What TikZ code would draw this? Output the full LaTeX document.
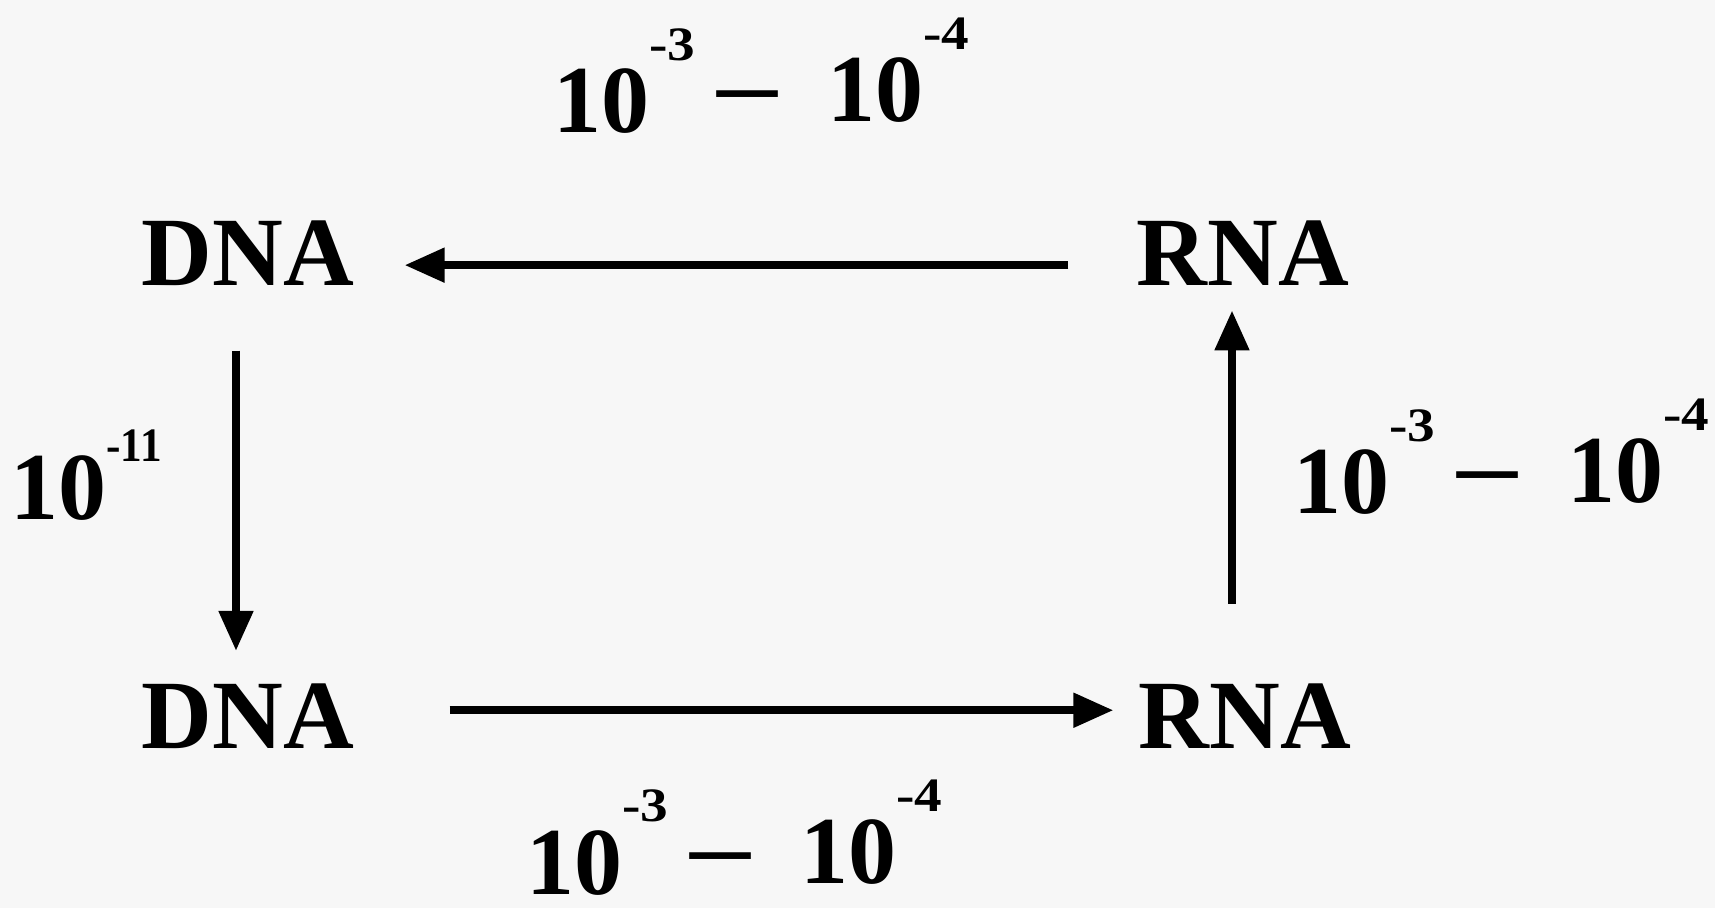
\documentclass[tikz,border=0pt]{standalone}
\usepackage{fontspec,graphicx}
\setmainfont{Liberation Serif}
\usetikzlibrary{arrows.meta}
\newcommand\tenexp[2][36pt]{10\raisebox{#1}{\fontsize{24}{24}\selectfont#2}}
\newcommand\rng[2]{\tenexp{\scalebox{1.15}[1]{#1}}\hspace{11pt}\raisebox{8pt}{\scalebox{1.25}[1]{\textendash}}\hspace{25pt}\raisebox{5.5pt}{\tenexp{\scalebox{1.15}[1]{#2}}}}

\begin{document}
\begin{tikzpicture}[x=.5pt,y=-.5pt,
  mol/.style={anchor=base,inner sep=0pt,font=\fontsize{49}{55}\selectfont\bfseries},
  rate/.style={anchor=base west,inner sep=0pt,font=\fontsize{48}{54}\selectfont\bfseries},
  flow/.style={line width=4pt,-{Triangle[length=20pt,width=16.5pt]}}]
\fill[black!3] (0,0) rectangle (1715,908);
\path[use as bounding box] (0,0) rectangle (1715,908);
% molecules
\node[mol] (dnaT) at (248,286) {DNA};
\node[mol] (rnaT) at (1243,286) {RNA};
\node[mol] (dnaB) at (248,749) {DNA};
\node[mol] (rnaB) at (1245,749) {RNA};
% rates
\node[rate] (rateT) at (553,133) {\rng{-3}{-4}};
\node[rate] (rateL) at (10,520) {\tenexp[29pt]{\scalebox{.9}[1]{-11}}};
\node[rate] (rateB) at (526,894) {\rng{-3}{-4}};
\node[rate] (rateR) at (1293,514) {\rng{-3}{-4}};
% arrows
\draw[flow,shorten <=34pt,shorten >=25pt] ([yshift=-5.75pt]rnaT.west) -- ([yshift=-5.75pt]rnaT.west -| dnaT.east);
\draw[flow,shorten <=32pt,shorten >=16.5pt] ([xshift=-6pt]dnaT.south) -- ([xshift=-6pt]dnaB.north);
\draw[flow,shorten <=47.5pt,shorten >=12.5pt] ([yshift=3.25pt]dnaB.east) -- ([yshift=3.25pt]dnaB.east -| rnaB.west);
\draw[flow,shorten <=40pt,shorten >=12pt] ([xshift=-6.5pt]rnaB.north) -- ([xshift=-6.5pt]rnaB.north |- rnaT.south);
\end{tikzpicture}
\end{document}
